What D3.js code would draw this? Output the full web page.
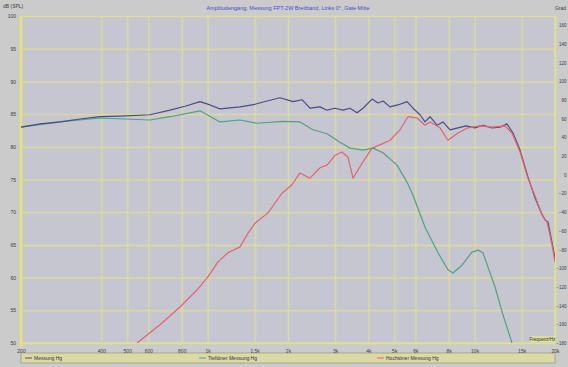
<!DOCTYPE html>
<html>
<head>
<meta charset="utf-8">
<script src="https://cdn.jsdelivr.net/npm/d3@7"></script>
<style>
  body { margin: 0; background: #cbcbcb; }
  text { font-family: "Liberation Sans", Arial, sans-serif; }
</style>
</head>
<body>
<div class="d3graph"></div>
<script>
// frequency response: sum, woofer and tweeter
var sumFreq = [200, 236, 280, 333, 395, 470, 608, 723, 823, 936, 1021, 1113, 1322, 1504, 1669, 1867, 2088, 2256, 2417, 2636, 2800, 3000, 3214, 3414, 3626, 3819, 4128, 4346, 4539, 4820, 5164, 5582, 5877, 6243, 6520, 6808, 7228, 7613, 8088, 8664, 9283, 10024, 10748, 11614, 12443, 13216, 13923, 14793, 15838, 16827, 17726, 18350, 18830, 19500, 20000];
var sumDb = [83.0, 83.5, 83.8, 84.25, 84.6, 84.7, 84.9, 85.6, 86.2, 86.9, 86.4, 85.8, 86.1, 86.5, 87.0, 87.5, 86.9, 87.2, 85.9, 86.1, 85.6, 85.9, 85.6, 85.9, 85.2, 85.9, 87.3, 86.7, 87.0, 86.1, 86.4, 86.9, 85.9, 84.9, 83.8, 84.6, 83.3, 83.8, 82.6, 82.9, 83.2, 82.9, 83.3, 82.9, 83.0, 83.5, 82.1, 79.5, 75.4, 72.2, 70.0, 68.8, 68.5, 65.3, 63.0];

var wooferFreq = [200, 280, 395, 608, 723, 936, 1113, 1322, 1531, 1916, 2218, 2482, 2800, 3132, 3414, 3819, 4160, 4539, 5119, 5582, 5877, 6520, 7292, 7944, 8298, 8970, 9774, 10295, 10748, 11220, 11920, 12770, 13803];
var wooferDb = [83.0, 83.8, 84.4, 84.1, 84.6, 85.5, 83.8, 84.1, 83.6, 83.9, 83.8, 82.6, 82.0, 80.7, 79.8, 79.5, 79.8, 79.1, 77.2, 74.6, 72.6, 67.7, 63.8, 61.2, 60.7, 61.9, 63.9, 64.2, 63.8, 61.6, 58.6, 54.3, 50.0];

var tweeterFreq = [544, 663, 788, 912, 1002, 1094, 1192, 1322, 1417, 1504, 1683, 1899, 2070, 2218, 2417, 2636, 2800, 3000, 3186, 3356, 3503, 3819, 4128, 4421, 4820, 5254, 5630, 6082, 6520, 6808, 7419, 7944, 8664, 9443, 10474, 11614, 12990, 13803, 14793, 15838, 16827, 17880, 18660, 19160, 19660, 20000];
var tweeterDb = [50.0, 52.8, 55.5, 58.1, 60.1, 62.4, 63.8, 64.7, 66.8, 68.3, 69.9, 72.9, 74.2, 76.0, 75.2, 76.8, 77.2, 78.7, 79.2, 78.4, 75.2, 77.7, 79.8, 80.3, 81.0, 82.6, 84.6, 84.4, 83.3, 83.8, 82.9, 81.0, 82.1, 82.9, 83.2, 83.0, 83.2, 82.1, 79.2, 75.2, 72.5, 69.6, 68.5, 66.5, 64.2, 62.4];

// axes
var freqTicks = [200, 400, 500, 600, 800, 1000, 1500, 2000, 3000, 4000, 5000, 6000, 8000, 10000, 15000, 20000];
var freqLabels = ["200", "400", "500", "600", "800", "1k", "1.5k", "2k", "3k", "4k", "5k", "6k", "8k", "10k", "15k", "20k"];
var dbTicks = [50, 55, 60, 65, 70, 75, 80, 85, 90, 95, 100];
var phaseTicks = [160, 140, 120, 100, 80, 60, 40, 20, 0, -20, -40, -60, -80, -100, -120, -140, -160, -180];

var seriesNames = ["Messung Hg", "Tieftöner Messung Hg", "Hochtöner Messung Hg"];
var seriesColors = ["#4c4c84", "#52a080", "#e0646f"];

var svg = d3.select(".d3graph")
  .append("svg")
  .attr("width", 568)
  .attr("height", 367);

var width = +svg.attr("width"),
  height = +svg.attr("height"),
  margin = {top: 16, right: 13, bottom: 24, left: 21};

svg.append("rect")
  .attr("width", width).attr("height", height)
  .attr("fill", "#cbcbcb");

var x = d3.scaleLog()
  .domain([200, 20000])
  .range([margin.left, width - margin.right]);

var y = d3.scaleLinear()
  .domain([50, 100])
  .range([height - margin.bottom, margin.top]);

var yPhase = d3.scaleLinear()
  .domain([-180, 170])
  .range([height - margin.bottom, margin.top]);

var plotW = x.range()[1] - x.range()[0],
  plotH = y.range()[0] - y.range()[1];

// plot background
svg.append("rect")
  .attr("x", margin.left).attr("y", margin.top)
  .attr("width", plotW).attr("height", plotH)
  .attr("fill", "#c6c6d0");

// grid, drawn twice for the soft yellow look
[{w: 3, o: 0.22}, {w: 1, o: 0.75}].forEach(function(s) {
  svg.append("g")
    .attr("class", "grid")
    .attr("transform", "translate(0," + y.range()[0] + ")")
    .call(d3.axisBottom(x).tickValues(freqTicks).tickSize(-plotH).tickFormat(""))
    .call(function(g) { g.select(".domain").remove(); })
    .selectAll("line")
    .attr("stroke", "#e0e09a").attr("stroke-width", s.w).attr("stroke-opacity", s.o);

  svg.append("g")
    .attr("class", "grid")
    .attr("transform", "translate(" + margin.left + ",0)")
    .call(d3.axisLeft(y).tickValues(dbTicks).tickSize(-plotW).tickFormat(""))
    .call(function(g) { g.select(".domain").remove(); })
    .selectAll("line")
    .attr("stroke", "#e0e09a").attr("stroke-width", s.w).attr("stroke-opacity", s.o);
});

// frame: thick yellow left axis, thin elsewhere
svg.append("line")
  .attr("x1", margin.left).attr("x2", margin.left)
  .attr("y1", margin.top).attr("y2", y.range()[0] + 4)
  .attr("stroke", "#e4e470").attr("stroke-width", 2.5);
svg.append("line")
  .attr("x1", x.range()[1]).attr("x2", x.range()[1])
  .attr("y1", margin.top).attr("y2", y.range()[0])
  .attr("stroke", "#e2e288").attr("stroke-width", 1.5);
svg.append("line")
  .attr("x1", margin.left).attr("x2", x.range()[1])
  .attr("y1", y.range()[0]).attr("y2", y.range()[0])
  .attr("stroke", "#e2e288").attr("stroke-width", 1.5);

// tick labels
var labelStyle = function(sel) {
  sel.attr("font-size", 5).attr("fill", "#3a3a3a");
};

svg.append("g")
  .attr("transform", "translate(0," + (y.range()[0] + 3) + ")")
  .call(d3.axisBottom(x).tickValues(freqTicks).tickSize(0)
    .tickFormat(function(d, i) { return freqLabels[i]; }))
  .call(function(g) { g.select(".domain").remove(); })
  .selectAll("text").call(labelStyle);

svg.append("g")
  .attr("transform", "translate(" + (margin.left - 2) + ",0)")
  .call(d3.axisLeft(y).tickValues(dbTicks).tickSize(0))
  .call(function(g) { g.select(".domain").remove(); })
  .selectAll("text").call(labelStyle);

svg.append("g")
  .attr("transform", "translate(" + (width - 1.5) + ",0)")
  .call(d3.axisRight(yPhase).tickValues(phaseTicks).tickSize(0))
  .call(function(g) { g.select(".domain").remove(); })
  .selectAll("text")
  .attr("x", 0)
  .attr("text-anchor", "end")
  .attr("font-size", 4.5).attr("fill", "#3a3a3a");

// axis titles
svg.append("text")
  .attr("x", 3).attr("y", 8)
  .attr("font-size", 5).attr("fill", "#3a3a3a")
  .text("dB (SPL)");
svg.append("text")
  .attr("x", 566).attr("y", 10)
  .attr("text-anchor", "end")
  .attr("font-size", 5).attr("fill", "#3a3a3a")
  .text("Grad");
svg.append("text")
  .attr("x", width / 2 + 4).attr("y", 10)
  .attr("text-anchor", "middle")
  .attr("font-size", 5.5).attr("fill", "#4a4ad0")
  .text("Amplitudengang, Messung FPT-2W Breitband, Links 0°, Gate Mitte");

svg.append("rect")
  .attr("x", 530).attr("y", 336)
  .attr("width", 25).attr("height", 6)
  .attr("fill", "#dcdca4");
svg.append("text")
  .attr("x", 542.5).attr("y", 341)
  .attr("text-anchor", "middle")
  .attr("font-size", 4.5).attr("fill", "#333")
  .text("Frequenz/Hz");

// curves
svg.append("clipPath").attr("id", "clip")
  .append("rect")
  .attr("x", margin.left).attr("y", margin.top)
  .attr("width", plotW).attr("height", plotH);

var line = d3.line()
  .x(function(d) { return x(d[0]); })
  .y(function(d) { return y(d[1]); });

var series = [
  {name: seriesNames[1], color: seriesColors[1], pts: d3.zip(wooferFreq, wooferDb)},
  {name: seriesNames[0], color: seriesColors[0], pts: d3.zip(sumFreq, sumDb)},
  {name: seriesNames[2], color: seriesColors[2], pts: d3.zip(tweeterFreq, tweeterDb)}
];

svg.append("g")
  .attr("clip-path", "url(#clip)")
  .selectAll("path")
  .data(series)
  .enter().append("path")
  .attr("fill", "none")
  .attr("stroke", function(d) { return d.color; })
  .attr("stroke-width", 1.2)
  .attr("stroke-linejoin", "round")
  .attr("d", function(d) { return line(d.pts); });

// legend bar
svg.append("rect")
  .attr("x", margin.left).attr("y", 353)
  .attr("width", plotW).attr("height", 10)
  .attr("fill", "#dadaa6")
  .attr("stroke", "#8a8a70").attr("stroke-width", 0.6);

var legendX = [25, 199, 377];
var legend = svg.selectAll("g.legend")
  .data(seriesNames)
  .enter().append("g")
  .attr("class", "legend")
  .attr("transform", function(d, i) { return "translate(" + legendX[i] + ",358)"; });

legend.append("line")
  .attr("x1", 0).attr("x2", 7)
  .attr("stroke", function(d, i) { return seriesColors[i]; })
  .attr("stroke-width", 1);

legend.append("text")
  .attr("x", 9).attr("y", 1.8)
  .attr("font-size", 5).attr("fill", "#333")
  .text(function(d) { return d; });
</script>
</body>
</html>
